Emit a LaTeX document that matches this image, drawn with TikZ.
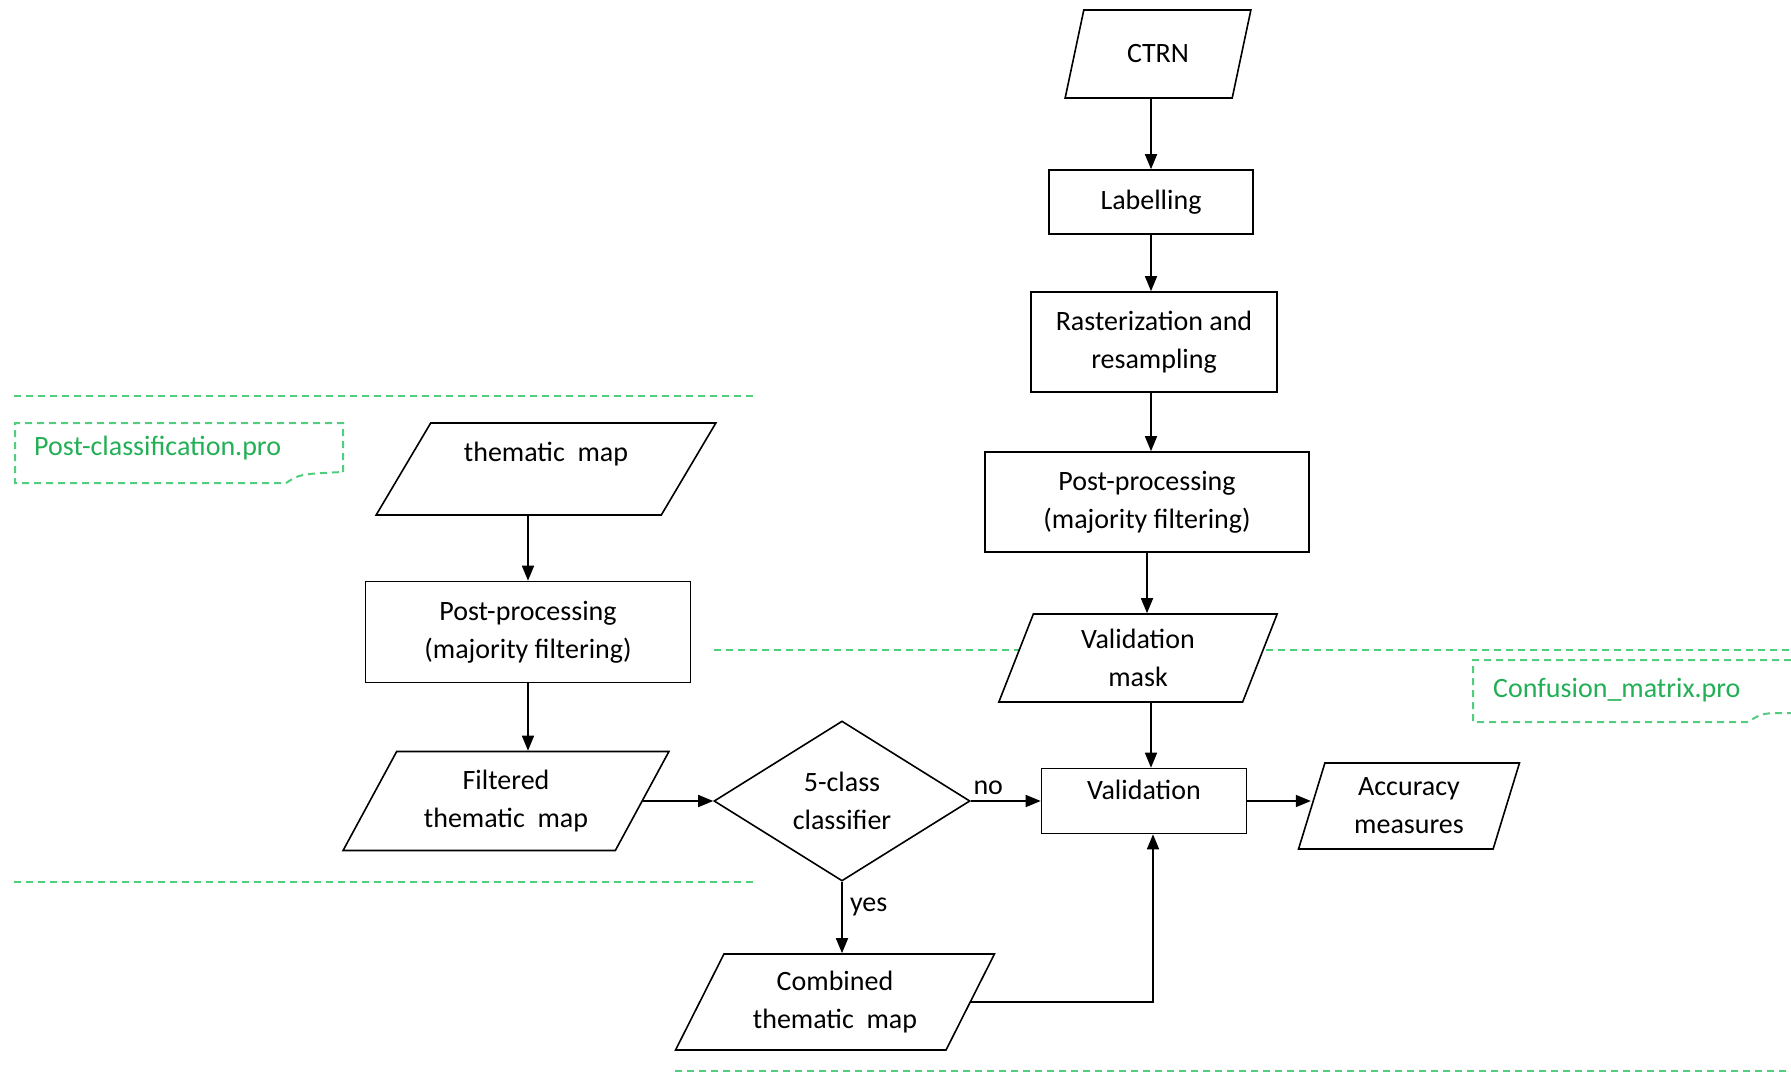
\documentclass[tikz,border=0pt]{standalone}
\usepackage{fontspec}
\setmainfont{Carlito}
\usetikzlibrary{shapes.geometric,arrows.meta}
\definecolor{sepgreen}{RGB}{80,205,125}
\definecolor{notegreen}{RGB}{35,175,85}

\begin{document}
\begin{tikzpicture}[x=1pt,y=-1pt,
  every node/.style={font=\fontsize{28}{38}\selectfont},
  proc/.style={draw, line width=1.6pt, fill=white, align=center, inner sep=0pt},
  data/.style={trapezium, trapezium stretches=true, draw, line width=1.6pt, fill=white, align=center, inner sep=0pt},
  decide/.style={diamond, draw, line width=1.6pt, fill=white, align=center, inner sep=0pt},
  arr/.style={-{Triangle[length=15pt,width=12pt]}, line width=1.6pt},
  sep/.style={draw=sepgreen, line width=2pt, dash pattern=on 7pt off 5pt},
  notelbl/.style={text=notegreen, anchor=west, inner sep=0pt}]
\useasboundingbox (0,0) rectangle (1791,1076);

% dashed separators between the two scripts
\draw[sep] (14,396) -- (754,396);
\draw[sep] (714,650) -- (1791,650);
\draw[sep] (14,882) -- (754,882);
\draw[sep] (675,1071) -- (1791,1071);

% script notes
\draw[sep] (343,472) -- (343,423) -- (15,423) -- (15,483) -- (286,483)
  .. controls (300,474) .. (343,472);
\node[notelbl] (postnote) at (34,448) {Post-classification.pro};
\draw[sep] (1791,660) -- (1473,660) -- (1473,722) -- (1748,722)
  .. controls (1762,713) .. (1791,713);
\node[notelbl] (confnote) at (1493,690) {Confusion\_matrix.pro};

% reference branch
\node[data, trapezium left angle=67, trapezium right angle=113, minimum width=187, minimum height=88] (ctrn) at (1158,54) {CTRN};
\node[proc, minimum width=204, minimum height=64] (lab) at (1151,202) {Labelling};
\node[proc, minimum width=246, minimum height=100] (rast) at (1154,342) {Rasterization and\\resampling};
\node[proc, minimum width=324, minimum height=100] (ppr) at (1147,502) {Post-processing\\(majority filtering)};
\node[data, trapezium left angle=72, trapezium right angle=108, minimum width=279, minimum height=88] (vmask) at (1138,658) {Validation\\mask};
\node[proc, minimum width=205, minimum height=65, text depth=22pt] (val) at (1144,801) {Validation};
\node[data, trapezium left angle=73, trapezium right angle=107, minimum width=221, minimum height=86] (acc) at (1409,806) {Accuracy\\measures};

% classification branch
\node[data, trapezium left angle=54, trapezium right angle=126, minimum width=341, minimum height=92, text depth=34pt] (thmap) at (546,469) {thematic\ \ map};
\node[proc, minimum width=325, minimum height=101] (ppl) at (528,632) {Post-processing\\(majority filtering)};
\node[data, trapezium left angle=57, trapezium right angle=123, minimum width=327, minimum height=99] (filt) at (506,801) {Filtered\\thematic\ \ map};
\node[decide, minimum width=256, minimum height=160] (cls) at (842,801) {5-class\\classifier};
\node[data, trapezium left angle=60, trapezium right angle=120, minimum width=319, minimum height=96] (comb) at (835,1002) {Combined\\thematic\ \ map};

\draw[arr] (ctrn.south -| lab) -- (lab);
\draw[arr] (lab) -- (rast.north -| lab);
\draw[arr] (rast.south -| lab) -- (ppr.north -| lab);
\draw[arr] (ppr.south) -- (ppr.south |- vmask.north);
\draw[arr] (vmask.south -| lab) -- (val.north -| lab);
\draw[arr] (ppl |- thmap.south) -- (ppl);
\draw[arr] (ppl) -- (ppl |- filt.north);
\draw[arr] (filt.east) -- (cls.west);
\draw[arr] (cls.east) -- (val.west) node[pos=0.25, above=2pt] {no};
\draw[arr] (val.east) -- (acc.west |- val.east);
\draw[arr] (cls.south) -- (cls.south |- comb.north) node[pos=0.35, right=4pt] {yes};
\draw[arr] (comb.east) -| ([xshift=9pt]val.south);
\end{tikzpicture}
\end{document}
